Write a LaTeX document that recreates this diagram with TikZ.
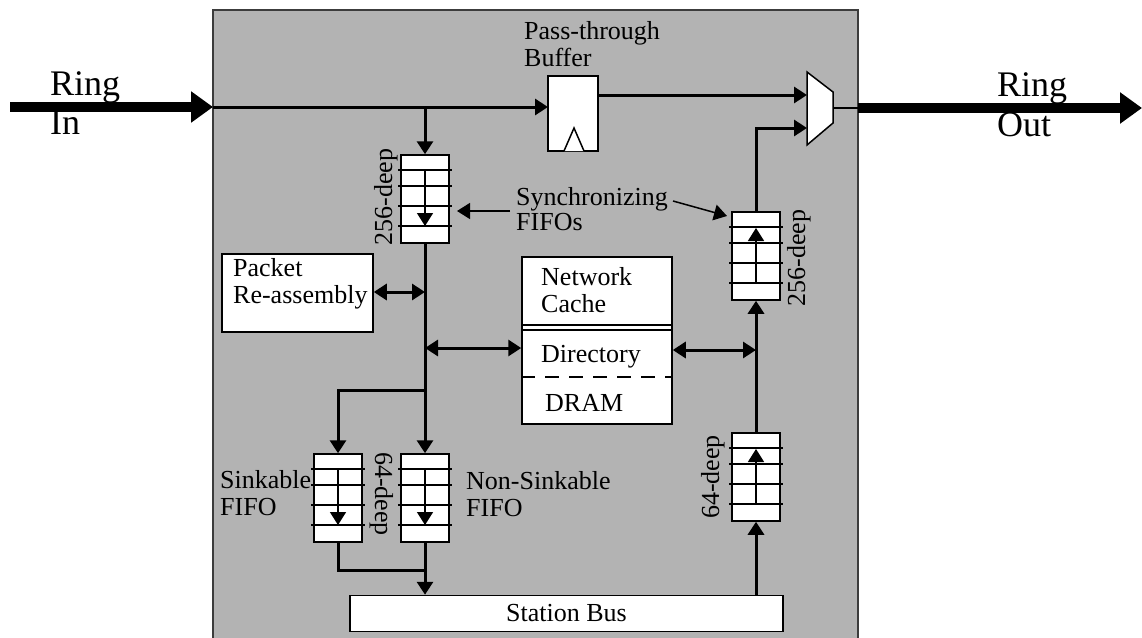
\documentclass[tikz,border=0pt]{standalone}
\usepackage{fontspec}
\setmainfont{Liberation Serif}
\usetikzlibrary{arrows.meta,calc}
\definecolor{panel}{RGB}{179,179,179}
\definecolor{panelborder}{RGB}{60,60,60}
\newcommand{\fifobody}{%
  \node[wbox, minimum width=48pt, minimum height=88pt] (-box) at (0,44) {};
  \foreach \yy in {15,31,51,71} \draw[line width=1.5pt] (-27,\yy) -- (27,\yy);
}
\tikzset{
  txt/.style={font=\fontsize{26}{28}\selectfont, inner sep=0pt, anchor=base west},
  bigtxt/.style={font=\fontsize{36}{38}\selectfont, inner sep=0pt, anchor=base west},
  wbox/.style={draw=black, fill=white, line width=1.5pt, inner sep=0pt},
  conn/.style={line width=3pt},
  tip/.style={-{Triangle[length=13pt,width=16pt]}},
  dtip/.style={{Triangle[length=13pt,width=16pt]}-{Triangle[length=13pt,width=16pt]}},
  ringarrow/.style={line width=10pt, -{Triangle[length=22pt,width=30pt]}},
  fifodown/.pic={\fifobody \draw[line width=1.5pt, tip] (0,15) -- (0,71);},
  fifoup/.pic={\fifobody \draw[line width=1.5pt, tip] (0,71) -- (0,16);},
}
\begin{document}
\begin{tikzpicture}[x=1pt,y=-1pt]
\useasboundingbox (0,0) rectangle (1142,637);
\clip (0,0) rectangle (1142,637);
% panel
\draw[fill=panel, draw=panelborder, line width=1.5pt] (213,10) rectangle (858,645);

% ring in / out
\coordinate (ringstart) at (10,107);
\coordinate (panelin) at (213,107);
\coordinate (panelout) at (858,108);
\coordinate (ringend) at (1142,108);
\draw[ringarrow] (ringstart) -- (panelin);
\draw[ringarrow] (panelout) -- (ringend);
\node[bigtxt] (ringinA) at (50,95) {Ring};
\node[bigtxt] (ringinB) at (50,134) {In};
\node[bigtxt] (ringoutA) at (997,96) {Ring};
\node[bigtxt] (ringoutB) at (997,136) {Out};

% pass-through buffer
\node[wbox, minimum width=50pt, minimum height=75pt] (buf) at (573,113.5) {};
\draw[line width=1.5pt, fill=white] (564,151) -- (574,128) -- (584,151);
\node[txt] (ptA) at (524,39) {Pass-through};
\node[txt] (ptB) at (524,66) {Buffer};

% mux
\draw[wbox] (807,72) -- (833,92) -- (833,123) -- (807,145) -- cycle;
\coordinate (muxin1) at (807,95);
\coordinate (muxin2) at (807,128);
\coordinate (muxout) at (833,108);

% ring line
\coordinate (junc) at (425,107);
\coordinate (bufin) at (548,107);
\draw[conn, tip] (panelin) -- (bufin);
\coordinate (bufout) at (598,95);
\draw[conn, tip] (bufout) -- (muxin1);
\draw[line width=2pt] (muxout) -- (panelout);

% FIFOs
\pic (ul) at (425,155) {fifodown};
\pic (ur) at (756,212) {fifoup};
\pic (sk) at (338,454) {fifodown};
\pic (ns) at (425,454) {fifodown};
\pic (lr) at (756,433) {fifoup};

\node[txt, rotate=90, anchor=base] (lbl1) at (392,197) {256-deep};
\node[txt, rotate=90, anchor=base] (lbl2) at (805,258) {256-deep};
\node[txt, rotate=-90, anchor=base] (lbl3) at (375,494) {64-deep};
\node[txt, rotate=90, anchor=base] (lbl4) at (719,477) {64-deep};

% synchronizing label
\node[txt] (syncA) at (516,205) {Synchronizing};
\node[txt] (syncB) at (516,230) {FIFOs};
\coordinate (syncL) at (510,211);
\coordinate (syncLtip) at (457,211);
\coordinate (syncR) at (673,201);
\coordinate (syncRtip) at (727,216);
\draw[line width=1.5pt, tip] (syncL) -- (syncLtip);
\draw[line width=1.5pt, tip] (syncR) -- (syncRtip);

% packet re-assembly
\node[wbox, minimum width=151pt, minimum height=78pt] (pra) at (297.5,293) {};
\node[txt] (praA) at (233,276) {Packet};
\node[txt] (praB) at (233,303) {Re-assembly};

% network cache
\node[wbox, minimum width=150pt, minimum height=167pt] (cache) at (597,340.5) {};
\draw[line width=1.5pt] (cache.west |- 0,325) -- (cache.east |- 0,325);
\draw[line width=1.5pt] (cache.west |- 0,330) -- (cache.east |- 0,330);
\draw[line width=1.5pt, dash pattern=on 14pt off 10pt] (cache.west |- 0,377) -- (cache.east |- 0,377);
\node[txt] (ncA) at (541,285) {Network};
\node[txt] (ncB) at (541,312) {Cache};
\node[txt] (dir) at (541,362) {Directory};
\node[txt] (dram) at (545,411) {DRAM};

% main vertical bus
\draw[conn, tip] (junc) -- (ul-box.north);
\draw[conn, tip] (ul-box.south) -- (ns-box.north);
\coordinate (split) at (425,390);
\draw[conn, tip] (split) -| (sk-box.north);
\coordinate (praj) at (425,292);
\draw[conn, dtip] (pra.east |- praj) -- (praj);
\coordinate (cachej) at (425,348);
\draw[conn, dtip] (cachej) -- (cache.west |- cachej);
\coordinate (rightj) at (756,350);
\draw[conn, dtip] (cache.east |- rightj) -- (rightj);

% right column
\draw[conn, tip] (lr-box.north) -- (ur-box.south);
\draw[conn, tip] (ur-box.north) |- (muxin2);

% station bus
\node[wbox, minimum width=433pt, minimum height=36pt, font=\fontsize{26}{28}\selectfont] (bus) at (566.5,613.5) {Station Bus};
\coordinate (merge) at (425,570);
\draw[conn] (sk-box.south) |- (merge);
\draw[conn, tip] (ns-box.south) -- (ns-box.south |- bus.north);
\draw[conn, tip] (lr-box.south |- bus.north) -- (lr-box.south);

% FIFO labels
\node[txt] (skA) at (220,488) {Sinkable};
\node[txt] (skB) at (220,515) {FIFO};
\node[txt] (nsA) at (466,489) {Non-Sinkable};
\node[txt] (nsB) at (466,516) {FIFO};
\end{tikzpicture}
\end{document}
